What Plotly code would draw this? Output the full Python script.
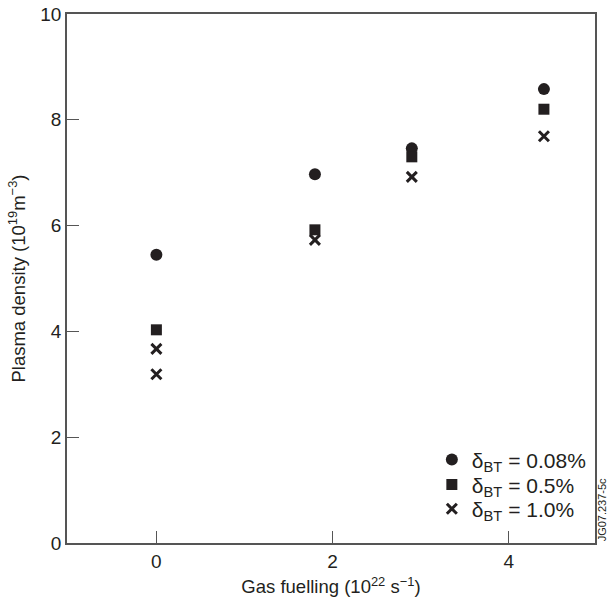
import plotly.graph_objects as go

# Data
gas_fuelling_low = [0, 1.8, 2.9, 4.4]
density_008 = [5.45, 6.97, 7.46, 8.58]

gas_fuelling_mid = [0, 1.8, 2.9, 4.4]
density_05 = [4.03, 5.92, 7.30, 8.20]

gas_fuelling_high = [0, 0, 1.8, 2.9, 4.4]
density_10 = [3.67, 3.19, 5.73, 6.92, 7.69]

series_names = ["δ<sub>BT</sub> = 0.08%", "δ<sub>BT</sub> = 0.5%", "δ<sub>BT</sub> = 1.0%"]
x_ticks = [0, 2, 4]
y_ticks = [0, 2, 4, 6, 8, 10]

INK = "#231f20"
AXIS = "#555555"
FONT = "Liberation Sans, Arial, sans-serif"

fig = go.Figure()
fig.add_trace(go.Scatter(
    x=gas_fuelling_low, y=density_008, mode="markers", name=series_names[0],
    marker=dict(symbol="circle", size=12, color=INK, line=dict(width=0)),
    legend="legend",
))
fig.add_trace(go.Scatter(
    x=gas_fuelling_mid, y=density_05, mode="markers", name=series_names[1],
    marker=dict(symbol="square", size=11, color=INK, line=dict(width=0)),
    legend="legend2",
))
fig.add_trace(go.Scatter(
    x=gas_fuelling_high, y=density_10, mode="markers", name=series_names[2],
    marker=dict(symbol="x-thin-open", size=10, color=INK, line=dict(width=3, color=INK)),
    legend="legend3",
))

axis_common = dict(
    showgrid=False, zeroline=False, showline=True, linecolor=AXIS, linewidth=1.5,
    mirror=True, ticks="inside", ticklen=12, tickwidth=1.2, tickcolor=AXIS,
    tickfont=dict(family=FONT, size=19, color=INK), automargin=False,
)

def legend_at(y):
    return dict(x=0.691, xanchor="left", y=y, yanchor="middle",
                bgcolor="rgba(0,0,0,0)", borderwidth=0,
                font=dict(family=FONT, size=21, color=INK))

fig.update_layout(
    width=609, height=601,
    margin=dict(l=67, r=14, t=14, b=58),
    paper_bgcolor="white", plot_bgcolor="white",
    font=dict(family=FONT, size=18, color=INK),
    xaxis=dict(range=[-1.015, 4.98], tickvals=x_ticks, ticktext=[str(v) for v in x_ticks],
               title=dict(text="Gas fuelling (10<sup>22</sup> s<sup>−1</sup>)",
                          font=dict(family=FONT, size=18.5, color=INK), standoff=10),
               **axis_common),
    yaxis=dict(range=[0, 10], tickvals=y_ticks, ticktext=[str(v) for v in y_ticks],
               title=dict(text="Plasma density (10<sup>19</sup>m<sup>−3</sup>)",
                          font=dict(family=FONT, size=18.5, color=INK), standoff=10),
               **axis_common),
    showlegend=True,
    legend=legend_at(0.157),
    legend2=legend_at(0.110),
    legend3=legend_at(0.064),
    annotations=[dict(
        text="JG07.237-5c", textangle=-90, xref="paper", yref="paper",
        x=1.013, y=0.0, xanchor="center", yanchor="bottom", showarrow=False,
        font=dict(family=FONT, size=11, color=INK),
    )],
)

fig.write_html("out.html", config={"displayModeBar": False},
               post_script="document.body.style.margin='0';")
